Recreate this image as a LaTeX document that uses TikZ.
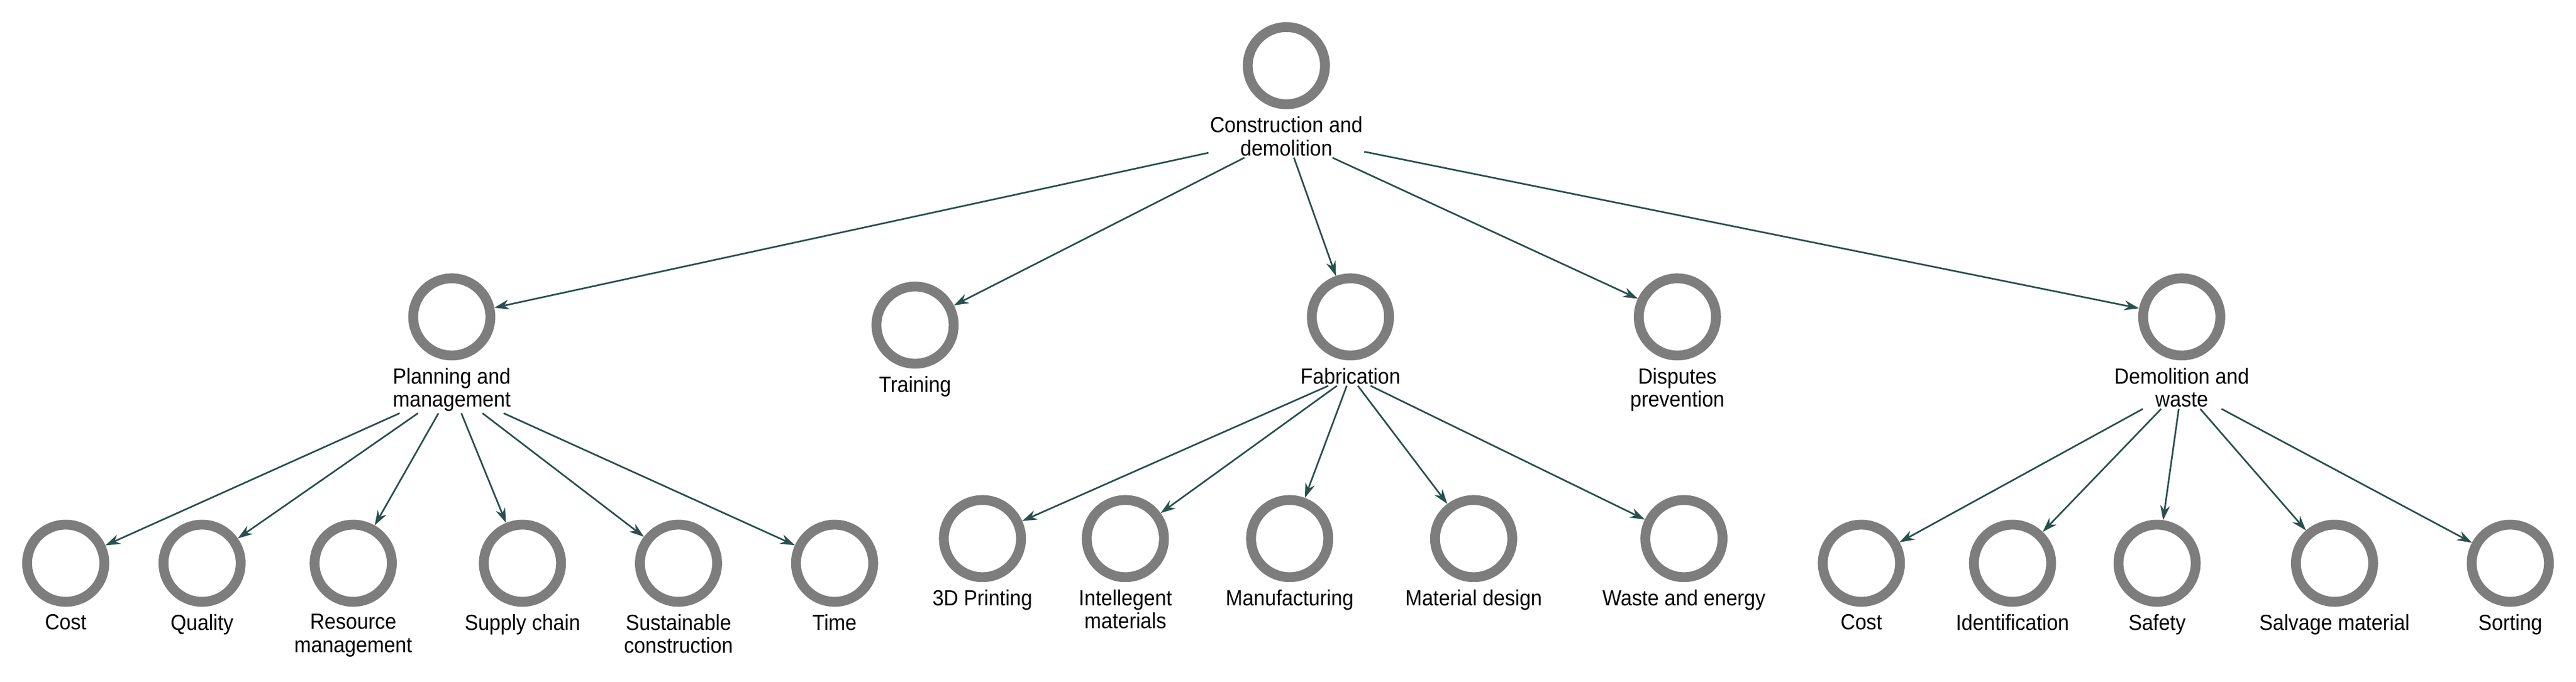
\documentclass[tikz,border=0pt]{standalone}
\usepackage{fontspec}
\setmainfont{Liberation Sans}
\usetikzlibrary{arrows.meta}
\definecolor{ring}{RGB}{125,125,125}
\definecolor{edge}{RGB}{40,80,78}
\begin{document}
\begin{tikzpicture}[x=1mm,y=-1mm,
  ring/.style={circle,draw=ring,line width=6mm,minimum size=47mm,inner sep=0},
  lab/.style={anchor=north,align=center,font=\fontsize{38}{40}\selectfont,inner sep=1mm,xscale=0.92},
  con/.style={draw=edge,line width=1mm,-{Stealth[length=9mm,width=6mm]}}]
\useasboundingbox (0,0) rectangle (1568,415);
\newcommand{\nd}[4]{\node[ring] (#1) at (#2,#3) {}; \node[lab] (#1L) at (#2,#3+30) {#4};}
\nd{root}{783}{40}{Construction and\\demolition}
\nd{plan}{275}{193}{Planning and\\management}
\nd{train}{557}{198}{Training}
\nd{fab}{822}{193}{Fabrication}
\nd{disp}{1021}{193}{Disputes\\prevention}
\nd{demo}{1328}{193}{Demolition and\\waste}
\nd{a1}{40}{343}{Cost}
\nd{a2}{123}{343}{Quality}
\nd{a3}{215}{343}{Resource\\management}
\nd{a4}{318}{343}{Supply chain}
\nd{a5}{413}{343}{Sustainable\\construction}
\nd{a6}{508}{343}{Time}
\nd{b1}{598}{328}{3D Printing}
\nd{b2}{685}{328}{Intellegent\\materials}
\nd{b3}{785}{328}{Manufacturing}
\nd{b4}{897}{328}{Material design}
\nd{b5}{1025}{328}{Waste and energy}
\nd{c1}{1133}{343}{Cost}
\nd{c2}{1225}{343}{Identification}
\nd{c3}{1313}{343}{Safety}
\nd{c4}{1421}{343}{Salvage material}
\nd{c5}{1528}{343}{Sorting}
\foreach \t in {plan,train,fab,disp,demo} \path[con] (rootL) -- (\t);
\foreach \t in {a1,a2,a3,a4,a5,a6} \path[con] (planL) -- (\t);
\foreach \t in {b1,b2,b3,b4,b5} \path[con] (fabL) -- (\t);
\foreach \t in {c1,c2,c3,c4,c5} \path[con] (demoL) -- (\t);
\end{tikzpicture}
\end{document}
